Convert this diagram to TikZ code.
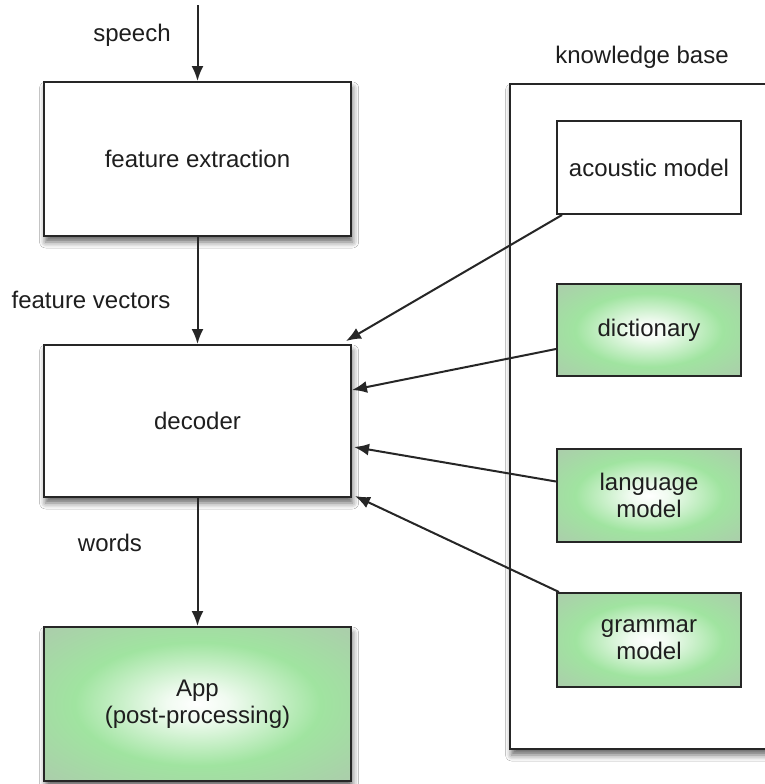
\documentclass[tikz,border=0pt]{standalone}
\usepackage{fontspec}
\setmainfont{Liberation Sans}
\usetikzlibrary{arrows.meta,calc,shadows.blur}

\definecolor{inkline}{RGB}{38,38,38}
\definecolor{inktext}{RGB}{30,30,30}
\definecolor{glowgreen}{RGB}{160,228,160}
\definecolor{glowedge}{RGB}{178,192,178}

\pgfdeclareradialshading{greenglow}{\pgfpoint{0bp}{0bp}}{%
  color(0bp)=(white);
  color(5bp)=(white!85!glowgreen);
  color(20bp)=(glowgreen);
  color(44bp)=(glowedge);
  color(80bp)=(glowedge)}

\tikzset{
  box/.style={draw=inkline, line width=1pt, fill=white, rectangle,
    inner sep=0pt, align=center, text=inktext,
    font=\fontsize{12}{13.5}\selectfont},
  shadowed/.style={blur shadow={shadow xshift=0.8pt, shadow yshift=-3pt,
    shadow blur radius=3pt, shadow opacity=60}},
  glow/.style={shading=greenglow},
  label/.style={text=inktext, font=\fontsize{12}{13.5}\selectfont, inner sep=0pt},
  flow/.style={draw=inkline, line width=1pt, -{Latex[length=7.5pt,width=6pt]}},
}

\begin{document}
\begin{tikzpicture}[x=0.5pt,y=-0.5pt]
  \clip (0,0) rectangle (765,784);
  \fill[white] (0,0) rectangle (765,784);

  % knowledge base frame (runs past the right border)
  \node[box, shadowed, minimum width=145.5pt, minimum height=332.5pt,
        anchor=north west] (kb) at (509,83) {};
  \node[label] (kblabel) at (642,57) {knowledge base};

  % processing chain
  \node[box, shadowed, minimum width=153.5pt, minimum height=77pt] (fe) at (197.5,159) {feature extraction};
  \node[box, shadowed, minimum width=153.5pt, minimum height=76pt] (dec) at (197.5,421) {decoder};
  \node[box, shadowed, glow, minimum width=153.5pt, minimum height=77pt] (app) at (197.5,704) {App\\(post-processing)};

  % knowledge sources
  \node[box, minimum width=92pt, minimum height=46.5pt] (am) at (649,167.5) {acoustic model};
  \node[box, glow, minimum width=92pt, minimum height=46pt] (dict) at (649,330) {dictionary};
  \node[box, glow, minimum width=92pt, minimum height=46.5pt] (lm) at (649,495.5) {language\\model};
  \node[box, glow, minimum width=92pt, minimum height=47pt] (gm) at (649,640) {grammar\\model};

  % edge labels
  \node[label] (lspeech) at (132,35) {speech};
  \node[label] (lfv) at (91,300) {feature vectors};
  \node[label] (lwords) at (110,543) {words};

  % main flow
  \coordinate (src) at (197.5,5);
  \draw[flow] (src) -- (fe.north);
  \draw[flow] (fe.south) -- (dec.north);
  \draw[flow] (dec.south) -- (app.north);

  % knowledge base inputs to the decoder
  \draw[flow] ($(am.south west)+(6,0)$) -- ($(dec.north east)+(-6,-3)$);
  \draw[flow] ($(dict.west)+(0,19)$) -- ($(dec.east)+(0,-31)$);
  \draw[flow] ($(lm.west)+(0,-14)$) -- ($(dec.east)+(2,26)$);
  \draw[flow] ($(gm.north west)+(3,0)$) -- ($(dec.south east)+(3,-2)$);
\end{tikzpicture}
\end{document}
